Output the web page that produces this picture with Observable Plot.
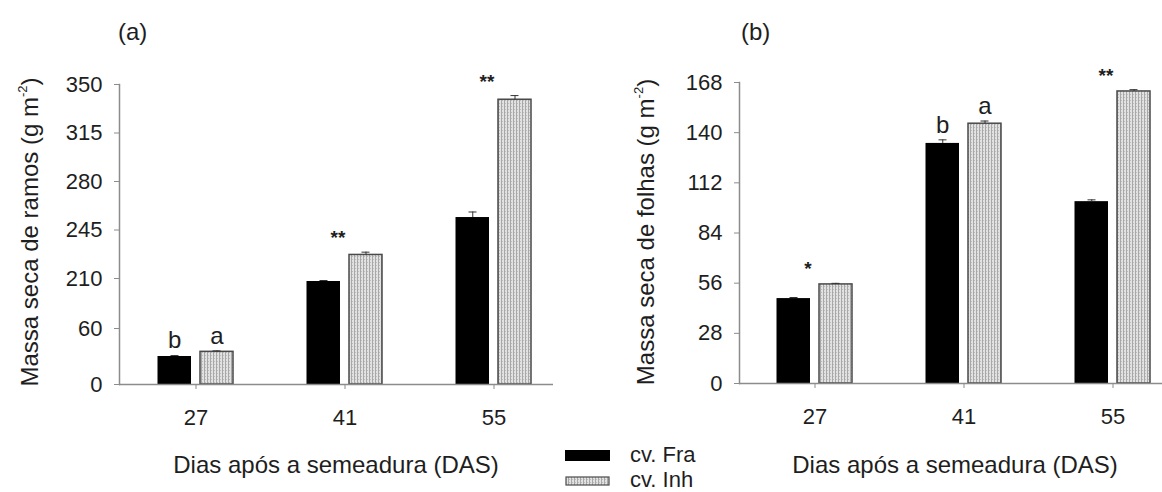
<!DOCTYPE html>
<html><head><meta charset="utf-8">
<script src="https://cdn.jsdelivr.net/npm/d3@7"></script>
<script src="https://cdn.jsdelivr.net/npm/@observablehq/plot@0.6"></script>
<style>
body{margin:0;background:#fff;font-family:"Liberation Sans",Arial,sans-serif;}
#wrap{position:relative;width:1162px;height:492px;overflow:hidden;background:#fff;}
.abs{position:absolute;white-space:nowrap;color:#1e1e1e;font-size:24px;line-height:1;}
.leg{position:absolute;white-space:nowrap;color:#1e1e1e;font-size:22px;line-height:21px;height:21px;}
.plot{position:absolute;top:0;}
.ylab{position:absolute;white-space:nowrap;color:#1e1e1e;font-size:24px;line-height:1;transform:translate(-50%,-50%) rotate(-90deg);}
.ylab sup{font-size:13px;vertical-align:0;position:relative;top:-11px;}
</style></head>
<body>
<svg width="0" height="0" style="position:absolute">
  <defs>
    <pattern id="inhPat" width="3" height="3" patternUnits="userSpaceOnUse">
      <rect width="3" height="3" fill="#e2e2e2"/>
      <rect x="0" y="0" width="1" height="3" fill="#a8a8a8"/>
      <rect x="1" y="1" width="1" height="1" fill="#bdbdbd"/>
    </pattern>
  </defs>
</svg>
<div id="wrap"></div>
<script>
// ---- data ----
const days = ["27", "41", "55"];
const cultivars = ["cv. Fra", "cv. Inh"];

// (a) Massa seca de ramos
const ramosFra = [30, 201, 254];
const ramosInh = [35, 227, 339];
const ramosFraErr = [1, 3, 4];
const ramosInhErr = [1, 2, 3];
const ramosTicks = [0, 60, 210, 245, 280, 315, 350];
const ramosLetters = [{day: "27", cv: "Fra", label: "b"}, {day: "27", cv: "Inh", label: "a"}];
const ramosStars = [{day: "41", label: "**"}, {day: "55", label: "**"}];

// (b) Massa seca de folhas
const folhasFra = [47.4, 134, 101.5];
const folhasInh = [55.3, 145, 163];
const folhasFraErr = [0.6, 2, 1];
const folhasInhErr = [0.6, 1.5, 1];
const folhasTicks = [0, 28, 56, 84, 112, 140, 168];
const folhasLetters = [{day: "41", cv: "Fra", label: "b"}, {day: "41", cv: "Inh", label: "a"}];
const folhasStars = [{day: "27", label: "*"}, {day: "55", label: "**"}];

const xTitle = "Dias após a semeadura (DAS)";

function panel(o) {
  const rows = days.map((d, i) => ({day: d, fra: o.fra[i], inh: o.inh[i], fraErr: o.fraErr[i], inhErr: o.inhErr[i]}));
  const byDay = new Map(rows.map(r => [r.day, r]));
  const letterY = d => { const r = byDay.get(d.day); return d.cv === "Fra" ? r.fra + r.fraErr : r.inh + r.inhErr; };
  const starY = d => { const r = byDay.get(d.day); return Math.max(r.fra + r.fraErr, r.inh + r.inhErr); };
  const axisColor = "#8c8c8c";
  return Plot.plot({
    width: o.width, height: 492,
    marginLeft: o.marginLeft, marginRight: o.marginRight, marginTop: o.marginTop, marginBottom: o.marginBottom,
    style: {fontFamily: "'Liberation Sans', Arial, sans-serif", fontSize: "22px", color: "#1e1e1e", background: "transparent", overflow: "visible"},
    x: {type: "band", domain: days, range: o.xRange, padding: 0},
    y: o.y,
    marks: [
      Plot.barY(rows, {x: "day", y: "fra", fill: "#000", insetLeft: 36.5, insetRight: 79}),
      Plot.barY(rows, {x: "day", y: "inh", fill: "url(#inhPat)", stroke: "#4a4a4a", strokeWidth: 1.5, insetLeft: 79, insetRight: 37}),
      Plot.ruleX(rows, {x: "day", y1: "fra", y2: d => d.fra + d.fraErr, dx: -21.25, stroke: "#333"}),
      Plot.tickY(rows, {x: "day", y: d => d.fra + d.fraErr, insetLeft: 49.5, insetRight: 91.5, stroke: "#333"}),
      Plot.ruleX(rows, {x: "day", y1: "inh", y2: d => d.inh + d.inhErr, dx: 21, stroke: "#333"}),
      Plot.tickY(rows, {x: "day", y: d => d.inh + d.inhErr, insetLeft: 91.5, insetRight: 49.5, stroke: "#333"}),
      Plot.text(o.letters.filter(d => d.cv === "Fra"), {x: "day", y: letterY, text: "label", dx: -21.25, dy: -15, fontSize: 24}),
      Plot.text(o.letters.filter(d => d.cv === "Inh"), {x: "day", y: letterY, text: "label", dx: 21, dy: -15, fontSize: 24}),
      Plot.text(o.stars, {x: "day", y: starY, text: "label", dx: -7, dy: -14, fontSize: 19, fontWeight: "bold"}),
      Plot.ruleY([0], {stroke: axisColor, strokeWidth: 1.5}),
      Plot.frame({anchor: "left", stroke: axisColor, strokeWidth: 1.5}),
      Plot.axisY({ticks: o.ticks, tickFormat: d => String(d), tickSize: 5, tickPadding: 12, stroke: axisColor, label: null}),
      Plot.axisX({tickSize: 5, tickPadding: 20, stroke: axisColor, label: null})
    ]
  });
}

const wrap = document.getElementById("wrap");

const left = panel({
  fra: ramosFra, inh: ramosInh, fraErr: ramosFraErr, inhErr: ramosInhErr,
  ticks: ramosTicks, letters: ramosLetters, stars: ramosStars,
  width: 580, marginLeft: 119, marginRight: 27, marginTop: 84, marginBottom: 108,
  xRange: [121, 568],
  // broken (piecewise) axis: 0–60, 60–210, 210–350
  y: {type: "linear", domain: [0, 60, 210, 350], range: [384, 328, 278, 84]}
});
left.classList.add("plot"); left.style.left = "0px";
wrap.appendChild(left);

const right = panel({
  fra: folhasFra, inh: folhasInh, fraErr: folhasFraErr, inhErr: folhasInhErr,
  ticks: folhasTicks, letters: folhasLetters, stars: folhasStars,
  width: 582, marginLeft: 159, marginRight: 0, marginTop: 82, marginBottom: 109,
  xRange: [159.5, 606.5],
  y: {type: "linear", domain: [0, 168]}
});
right.classList.add("plot"); right.style.left = "580px";
wrap.appendChild(right);

function addText(txt, x, y, cls) {
  const d = document.createElement("div");
  d.className = cls || "abs";
  d.textContent = txt;
  d.style.left = x + "px"; d.style.top = y + "px";
  wrap.appendChild(d);
  return d;
}
// panel tags
addText("(a)", 118, 20);
addText("(b)", 741, 20);
// x titles
const xt1 = addText(xTitle, 336, 453); xt1.style.transform = "translateX(-50%)";
const xt2 = addText(xTitle, 955, 453); xt2.style.transform = "translateX(-50%)";
// y titles
function yTitle(main, x) {
  const d = document.createElement("div");
  d.className = "ylab";
  d.innerHTML = main + " (g m<sup>-2</sup>)";
  d.style.left = x + "px"; d.style.top = "232px";
  wrap.appendChild(d);
}
yTitle("Massa seca de ramos", 30);
yTitle("Massa seca de folhas", 646);

// legend
const lg = d3.select(wrap).append("svg").attr("width", 60).attr("height", 46)
  .style("position", "absolute").style("left", "562px").style("top", "445px");
lg.append("rect").attr("x", 3).attr("y", 5).attr("width", 45).attr("height", 11).attr("fill", "#000");
lg.append("rect").attr("x", 4).attr("y", 32).attr("width", 43).attr("height", 8).attr("fill", "url(#inhPat)").attr("stroke", "#4a4a4a").attr("stroke-width", 1.2);
addText(cultivars[0], 630, 444, "leg");
addText(cultivars[1], 630, 469, "leg");
</script>
</body></html>
